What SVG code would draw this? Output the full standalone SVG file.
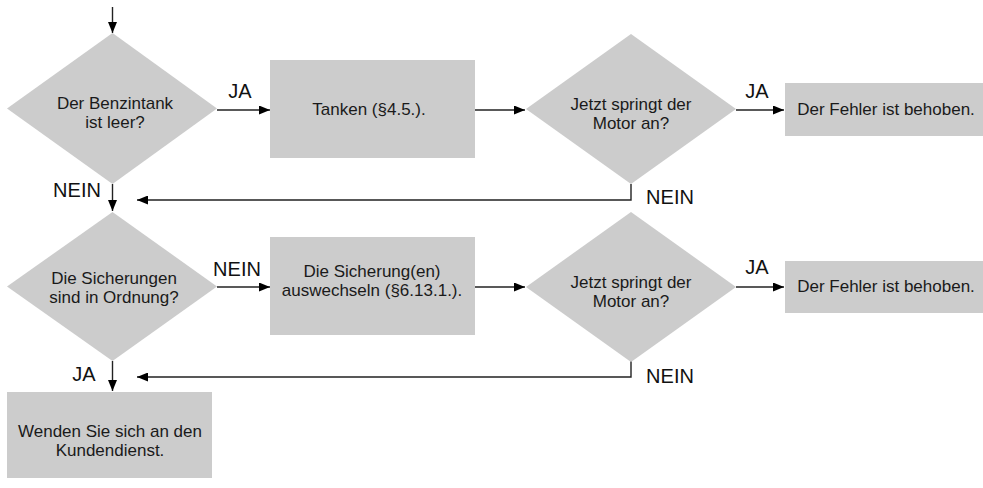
<svg xmlns="http://www.w3.org/2000/svg" width="983" height="488" viewBox="0 0 983 488">
<style>
.shape{fill:#cccccc;stroke:none}
.t{font-family:"Liberation Sans",Arial,sans-serif;font-size:17px;fill:#1a1a1a;text-anchor:middle}
.lbl{font-family:"Liberation Sans",Arial,sans-serif;font-size:20px;fill:#111;text-anchor:middle}
.c{fill:none;stroke:#222;stroke-width:1.4}
</style>
<defs>
<marker id="ah" markerWidth="11" markerHeight="9" refX="11" refY="4.5" orient="auto" markerUnits="userSpaceOnUse">
<path d="M0,0 L11,4.5 L0,9 z" fill="#000"/>
</marker>
</defs>
<g id="connectors">
<path class="c" d="M112.5,7 V33" marker-end="url(#ah)"/>
<path class="c" d="M217,110 H270" marker-end="url(#ah)"/>
<path class="c" d="M475,110 H525" marker-end="url(#ah)"/>
<path class="c" d="M736,110 H784" marker-end="url(#ah)"/>
<path class="c" d="M631,184 V200 H137" marker-end="url(#ah)"/>
<path class="c" d="M112.5,184 V211" marker-end="url(#ah)"/>
<path class="c" d="M217,287 H270" marker-end="url(#ah)"/>
<path class="c" d="M475,287 H525" marker-end="url(#ah)"/>
<path class="c" d="M736,287 H784" marker-end="url(#ah)"/>
<path class="c" d="M631,361 V377 H137" marker-end="url(#ah)"/>
<path class="c" d="M112.5,361 V391" marker-end="url(#ah)"/>
<text class="lbl" x="240" y="98">JA</text>
<text class="lbl" x="757" y="98">JA</text>
<text class="lbl" x="77" y="197">NEIN</text>
<text class="lbl" x="670" y="204">NEIN</text>
<text class="lbl" x="237" y="276">NEIN</text>
<text class="lbl" x="757" y="274">JA</text>
<text class="lbl" x="84" y="381">JA</text>
<text class="lbl" x="670" y="383">NEIN</text>
</g>
<g id="d1">
<polygon class="shape" points="112.5,33 217,108.5 112.5,184 7,108.5"/>
<text class="t" x="115" y="109">Der Benzintank</text>
<text class="t" x="115" y="128">ist leer?</text>
</g>
<g id="r1">
<rect class="shape" x="270" y="60" width="205" height="98"/>
<text class="t" x="369" y="115">Tanken (§4.5.).</text>
</g>
<g id="d2">
<polygon class="shape" points="631,34 736,109 631,184 526,109"/>
<text class="t" x="631" y="110">Jetzt springt der</text>
<text class="t" x="631" y="129">Motor an?</text>
</g>
<g id="r2">
<rect class="shape" x="785" y="83" width="198" height="53"/>
<text class="t" x="886" y="115">Der Fehler ist behoben.</text>
</g>
<g id="d3">
<polygon class="shape" points="112.5,212 217,286.5 112.5,361 7,286.5"/>
<text class="t" x="114" y="284">Die Sicherungen</text>
<text class="t" x="114" y="303">sind in Ordnung?</text>
</g>
<g id="r3">
<rect class="shape" x="270" y="237" width="205" height="98"/>
<text class="t" x="372" y="277">Die Sicherung(en)</text>
<text class="t" x="372" y="296">auswechseln (§6.13.1.).</text>
</g>
<g id="d4">
<polygon class="shape" points="631,212 736,287 631,362 526,287"/>
<text class="t" x="631" y="288">Jetzt springt der</text>
<text class="t" x="631" y="307">Motor an?</text>
</g>
<g id="r4">
<rect class="shape" x="785" y="261" width="198" height="52"/>
<text class="t" x="886" y="292">Der Fehler ist behoben.</text>
</g>
<g id="r5">
<rect class="shape" x="7" y="392" width="205" height="86"/>
<text class="t" x="110" y="437">Wenden Sie sich an den</text>
<text class="t" x="110" y="456">Kundendienst.</text>
</g>
</svg>
